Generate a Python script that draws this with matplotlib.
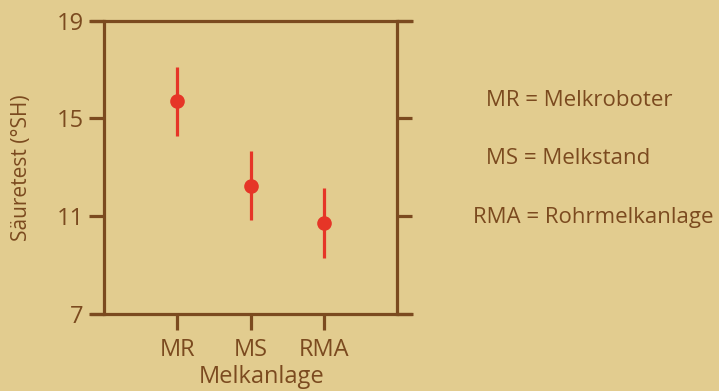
import matplotlib
matplotlib.use("Agg")
import matplotlib.pyplot as plt

categories = ["MR", "MS", "RMA"]
means = [15.7, 12.25, 10.73]
errors = [1.41, 1.41, 1.42]
yticks = [7, 11, 15, 19]
legend_lines = ["MR = Melkroboter", "MS = Melkstand", "RMA = Rohrmelkanlage"]

BG = "#e2cc8f"
BROWN = "#7b4a1f"
RED = "#e63527"

plt.rcParams['font.family'] = ['Liberation Sans Narrow', 'Open Sans', 'DejaVu Sans']

W, H = 719, 391
fig = plt.figure(figsize=(W/100, H/100), dpi=100, facecolor=BG)
ax = fig.add_axes([104/W, 1-314/H, 293/W, 293.3/H], facecolor=BG)

x = list(range(1, len(categories)+1))
ax.errorbar(x, means, yerr=errors, fmt='o', color=RED, ecolor=RED,
            elinewidth=2.3, markersize=9.5, capsize=0, zorder=3)

ax.set_xlim(0, 4)
ax.set_ylim(7, 19)
ax.set_yticks(yticks)
ax.set_yticklabels([str(v) for v in yticks])
ax.set_xticks(x)
ax.set_xticklabels(categories)

for s in ax.spines.values():
    s.set_color(BROWN)
    s.set_linewidth(2.3)
ax.spines['top'].set_visible(False)
ax.spines['bottom'].set_visible(False)

ax.tick_params(axis='y', which='both', left=True, right=True, direction='out',
               length=10.5, width=2.3, color=BROWN, labelcolor=BROWN,
               labelsize=17, pad=4)
ax.tick_params(axis='x', direction='out', length=11.5, width=2.3, color=BROWN,
               labelcolor=BROWN, labelsize=17, pad=6)

# top and bottom lines (extend across tick lengths)
for yv in (7, 19):
    ax.plot([-14/73.25, 4 + 16/73.25], [yv, yv], color=BROWN, lw=2.3,
            clip_on=False, solid_capstyle='butt', zorder=2)

fig.text(22/W, 1-168/H, "Säuretest (°SH)", rotation=90, ha='center', va='center',
         color=BROWN, fontsize=15)
fig.text(262/W, 1-377/H, "Melkanlage", ha='center', va='center',
         color=BROWN, fontsize=17)

lx = [486, 486, 473]
ly = [101, 159, 217]
for t, xx, yy in zip(legend_lines, lx, ly):
    fig.text(xx/W, 1-yy/H, t, ha='left', va='center', color=BROWN, fontsize=16)

fig.savefig("out.png", dpi=100, facecolor=BG)
